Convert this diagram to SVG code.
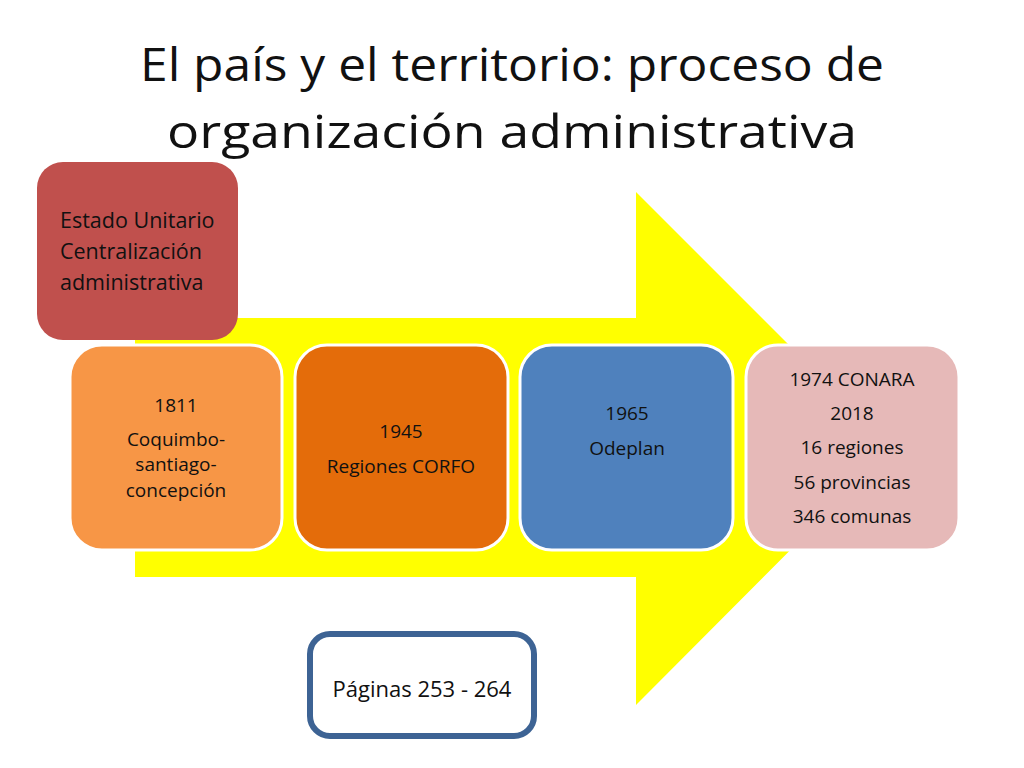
<svg xmlns="http://www.w3.org/2000/svg" width="1024" height="768" viewBox="0 0 1024 768">
<style>
.t{font-family:"Open Sans","Liberation Sans",sans-serif;fill:#111;}
.title{font-size:46px;text-anchor:middle;}
.b{font-size:19px;text-anchor:middle;}
.box{stroke:#fff;stroke-width:3;}
</style>
<rect width="1024" height="768" fill="#fff"/>
<g id="title">
<text class="t title" x="512" y="81" textLength="744" lengthAdjust="spacingAndGlyphs">El país y el territorio: proceso de</text>
<text class="t title" x="512" y="148" textLength="690" lengthAdjust="spacingAndGlyphs">organización administrativa</text>
</g>
<g id="connectors">
<polygon id="arrow" points="135,318 636,318 636,192 892,448 636,705 636,577 135,577" fill="#FFFF00"/>
</g>
<g id="estado">
<rect x="37" y="162" width="201" height="178" rx="26" fill="#C0504D"/>
<text class="t" font-size="21.5" x="60" y="228">Estado Unitario</text>
<text class="t" font-size="21.5" x="60" y="259">Centralización</text>
<text class="t" font-size="21.5" x="60" y="290">administrativa</text>
</g>
<g id="n1811">
<rect class="box" x="70" y="345" width="212" height="205" rx="32" fill="#F79646"/>
<text class="t b" x="176" y="412">1811</text>
<text class="t b" x="176" y="446">Coquimbo-</text>
<text class="t b" x="176" y="471">santiago-</text>
<text class="t b" x="176" y="497">concepción</text>
</g>
<g id="n1945">
<rect class="box" x="295" y="345" width="213" height="205" rx="32" fill="#E46C0A"/>
<text class="t b" x="401" y="438">1945</text>
<text class="t b" x="401" y="473">Regiones CORFO</text>
</g>
<g id="n1965">
<rect class="box" x="520" y="345" width="213" height="205" rx="32" fill="#4F81BD"/>
<text class="t b" x="627" y="420">1965</text>
<text class="t b" x="627" y="455">Odeplan</text>
</g>
<g id="n1974">
<rect class="box" x="746" y="345" width="213" height="205" rx="32" fill="#E6B9B8"/>
<text class="t b" x="852" y="386">1974 CONARA</text>
<text class="t b" x="852" y="420">2018</text>
<text class="t b" x="852" y="454">16 regiones</text>
<text class="t b" x="852" y="489">56 provincias</text>
<text class="t b" x="852" y="523">346 comunas</text>
</g>
<g id="paginas">
<rect x="310" y="634" width="224" height="102" rx="20" fill="#fff" stroke="#3D6394" stroke-width="6"/>
<text class="t" font-size="22" text-anchor="middle" x="422" y="697">Páginas 253 - 264</text>
</g>
</svg>
